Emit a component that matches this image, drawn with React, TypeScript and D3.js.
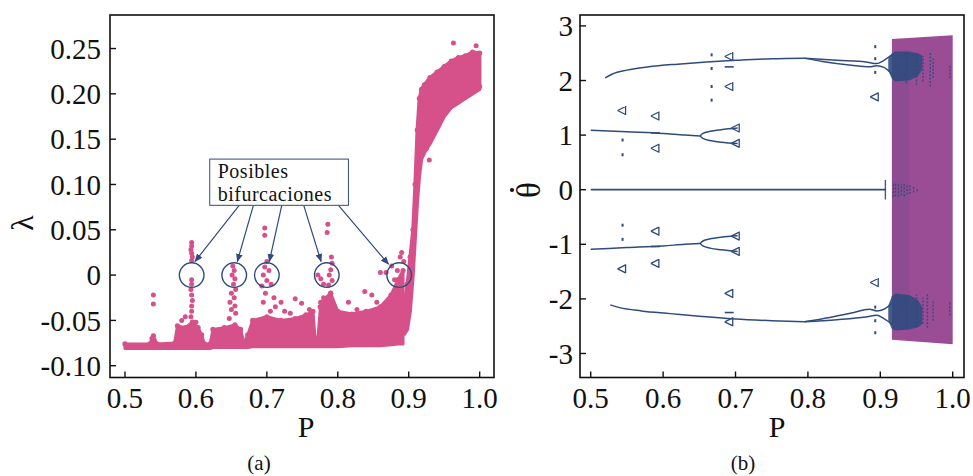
import * as d3 from 'd3'

// ---- panel (a): Lyapunov exponent vs P ----
// dense band of points, lower part (P 0.50 .. 0.89)
const bandP = [0.500, 0.535, 0.540, 0.545, 0.570, 0.574, 0.585, 0.595, 0.603, 0.608, 0.612, 0.620, 0.624, 0.640, 0.655, 0.663, 0.668, 0.673, 0.680, 0.700, 0.720, 0.740, 0.755, 0.765, 0.768, 0.772, 0.776, 0.790, 0.800, 0.820, 0.840, 0.860, 0.875, 0.885, 0.892]
const bandHi = [-0.076, -0.076, -0.067, -0.076, -0.075, -0.056, -0.058, -0.052, -0.058, -0.066, -0.076, -0.076, -0.060, -0.058, -0.055, -0.060, -0.076, -0.066, -0.050, -0.046, -0.050, -0.048, -0.044, -0.040, -0.070, -0.070, -0.030, -0.020, -0.040, -0.043, -0.040, -0.035, -0.022, -0.005, 0.005]
const bandLo = [-0.081, -0.081, -0.081, -0.081, -0.081, -0.081, -0.081, -0.081, -0.081, -0.081, -0.081, -0.081, -0.080, -0.080, -0.080, -0.080, -0.080, -0.080, -0.079, -0.079, -0.079, -0.079, -0.079, -0.079, -0.079, -0.079, -0.079, -0.079, -0.079, -0.078, -0.078, -0.078, -0.077, -0.076, -0.076]

// chaotic strand rising to the upper plateau (P 0.894 .. 1.0)
const strandP = [0.894, 0.898, 0.902, 0.906, 0.909, 0.912, 0.915, 0.918, 0.922, 0.930, 0.940, 0.950, 0.960, 0.970, 0.980, 0.990, 1.000]
const strandHi = [-0.030, -0.010, 0.020, 0.050, 0.100, 0.160, 0.195, 0.205, 0.210, 0.218, 0.224, 0.230, 0.236, 0.240, 0.242, 0.246, 0.245]
const strandLo = [-0.065, -0.060, -0.040, 0.000, 0.040, 0.080, 0.110, 0.128, 0.135, 0.145, 0.160, 0.175, 0.185, 0.190, 0.195, 0.200, 0.205]

// loose points (spikes and outliers)
const looseDots: [number, number][] = [
  [0.540, -0.022], [0.540, -0.032], [0.538, -0.070],
  [0.594, 0.036], [0.594, 0.032], [0.593, 0.028], [0.594, 0.024], [0.595, 0.020], [0.594, 0.016],
  [0.594, -0.005], [0.594, -0.010], [0.593, -0.016], [0.594, -0.022], [0.595, -0.028], [0.594, -0.034],
  [0.594, -0.040], [0.593, -0.046], [0.596, -0.052], [0.600, -0.052], [0.580, -0.050], [0.585, -0.046],
  [0.652, 0.010], [0.654, 0.005], [0.651, 0.000], [0.655, -0.004], [0.653, -0.010], [0.656, -0.016],
  [0.650, -0.020], [0.654, -0.025], [0.648, -0.030], [0.655, -0.034], [0.650, -0.038], [0.656, -0.042], [0.647, -0.048],
  [0.697, 0.052], [0.697, 0.044], [0.700, 0.015], [0.697, 0.009], [0.703, 0.005], [0.695, 0.000],
  [0.700, -0.006], [0.693, -0.012], [0.706, -0.010], [0.698, -0.020], [0.710, -0.025], [0.695, -0.030],
  [0.712, -0.035], [0.720, -0.030], [0.725, -0.040], [0.705, -0.040], [0.733, -0.042], [0.740, -0.026],
  [0.749, -0.031], [0.760, -0.038],
  [0.786, 0.056], [0.785, 0.047], [0.791, 0.020], [0.792, 0.013], [0.790, 0.006], [0.788, 0.000],
  [0.792, -0.006], [0.787, -0.011], [0.790, -0.020], [0.780, -0.010], [0.776, -0.004], [0.772, 0.000],
  [0.780, -0.025], [0.775, -0.035], [0.777, -0.045], [0.783, -0.030],
  [0.815, -0.030], [0.827, -0.038], [0.838, -0.018], [0.848, -0.022], [0.855, -0.030],
  [0.860, 0.003], [0.868, 0.003], [0.876, 0.010], [0.884, 0.005], [0.888, 0.020], [0.890, 0.025],
  [0.893, 0.015], [0.880, -0.005], [0.886, -0.010], [0.883, -0.015], [0.878, -0.020],
  [0.963, 0.256], [0.995, 0.253], [0.929, 0.127], [0.918, 0.150], [0.925, 0.140], [1.000, 0.208],
]

const lambdaTicks = [-0.10, -0.05, 0, 0.05, 0.10, 0.15, 0.20, 0.25]
const lambdaTickLabels = ['-0.10', '-0.05', '0', '0.05', '0.10', '0.15', '0.20', '0.25']
const pTicks = [0.5, 0.6, 0.7, 0.8, 0.9, 1.0]
const pTickLabels = ['0.5', '0.6', '0.7', '0.8', '0.9', '1.0']

// annotation: "Posibles bifurcaciones"
const circleP = [0.594, 0.654, 0.700, 0.7845, 0.8865]
const arrowFrom: [number, number][] = [[0.661, 0.077], [0.681, 0.077], [0.721, 0.077], [0.752, 0.077], [0.801, 0.077]]
const arrowTo: [number, number][] = [[0.5987, 0.015], [0.6584, 0.015], [0.7035, 0.015], [0.7764, 0.015], [0.8714, 0.012]]
const noteBox = { p0: 0.6195, p1: 0.815, l0: 0.077, l1: 0.128 }

// ---- panel (b): bifurcation diagram ----
const upperMain: [number, number][] = [[0.52, 2.05], [0.53, 2.12], [0.55, 2.19], [0.58, 2.25], [0.62, 2.30], [0.66, 2.34], [0.70, 2.37], [0.75, 2.40], [0.795, 2.41]]
const upperA: [number, number][] = [[0.795, 2.41], [0.84, 2.37], [0.88, 2.34], [0.895, 2.31], [0.905, 2.37], [0.916, 2.47]]
const upperB: [number, number][] = [[0.795, 2.41], [0.82, 2.35], [0.86, 2.28], [0.885, 2.25], [0.895, 2.27], [0.905, 2.24], [0.916, 2.12]]
const lowerMain: [number, number][] = [[0.527, -2.11], [0.54, -2.16], [0.57, -2.22], [0.61, -2.27], [0.65, -2.32], [0.70, -2.37], [0.75, -2.40], [0.795, -2.42]]
const lowerA: [number, number][] = [[0.795, -2.42], [0.84, -2.38], [0.88, -2.33], [0.895, -2.30], [0.905, -2.36], [0.916, -2.46]]
const lowerB: [number, number][] = [[0.795, -2.42], [0.83, -2.34], [0.86, -2.26], [0.885, -2.19], [0.895, -2.22], [0.905, -2.19], [0.916, -2.08]]
const plusMain: [number, number][] = [[0.50, 1.09], [0.55, 1.06], [0.60, 1.03], [0.63, 1.00], [0.651, 0.985]]
const plusUp: [number, number][] = [[0.651, 0.985], [0.655, 1.03], [0.665, 1.07], [0.680, 1.10], [0.703, 1.13]]
const plusDown: [number, number][] = [[0.651, 0.985], [0.655, 0.94], [0.665, 0.90], [0.680, 0.87], [0.703, 0.845]]
const minusMain: [number, number][] = [[0.50, -1.09], [0.55, -1.06], [0.60, -1.03], [0.63, -1.00], [0.651, -0.985]]
const minusUp: [number, number][] = [[0.651, -0.985], [0.655, -0.94], [0.665, -0.90], [0.680, -0.87], [0.703, -0.845]]
const minusDown: [number, number][] = [[0.651, -0.985], [0.655, -1.03], [0.665, -1.07], [0.680, -1.10], [0.703, -1.13]]
const zeroLine: [number, number][] = [[0.50, 0], [0.908, 0]]

const forkMarks: [number, number][] = [
  [0.544, 1.45], [0.544, -1.45], [0.590, 1.35], [0.590, 0.76], [0.590, -0.76], [0.590, -1.35],
  [0.692, 2.44], [0.692, 1.89], [0.692, -1.90], [0.692, -2.42],
  [0.701, 1.13], [0.701, 0.85], [0.701, -0.85], [0.701, -1.13], [0.893, 1.70], [0.893, -1.70],
]
const dashMarks: [number, number][] = [[0.692, 2.25], [0.692, -2.25], [0.590, 1.04], [0.590, -1.04]]
const dotMarks: [number, number][] = [
  [0.544, 0.91], [0.544, 0.64], [0.544, -0.65], [0.544, -0.91],
  [0.667, 2.47], [0.667, 2.22], [0.667, 1.89], [0.667, 1.64],
  [0.893, 2.62], [0.893, -2.62], [0.893, 2.15], [0.893, -2.15], [0.893, 2.40], [0.893, -2.40],
]

// chaotic region (purple) and dense navy parts inside it
const chaosP = [0.916, 1.0]
const chaosTop = [2.76, 2.83]
const chaosBottom = [-2.75, -2.83]
const denseP = [0.911, 0.916, 0.921, 0.940, 0.952, 0.958]
const denseUpTop = [2.40, 2.50, 2.53, 2.53, 2.50, 2.46]
const denseUpBot = [2.18, 2.03, 1.98, 2.00, 2.08, 2.20]
const denseLoTop = [-2.12, -1.95, -1.90, -1.93, -2.02, -2.15]
const denseLoBot = [-2.40, -2.55, -2.58, -2.56, -2.52, -2.46]
const hazeP = [0.916, 0.922, 0.930, 0.940]
const hazeHalf = [2.5, 2.4, 2.2, 2.0]
// navy speckle columns inside the chaotic region: [P, θ from, θ to]
const streaks: [number, number, number][] = [
  [0.936, 1.95, 2.53], [0.950, 1.92, 2.50], [0.959, 1.98, 2.45], [0.969, 1.89, 2.53], [0.973, 2.05, 2.40], [0.996, 2.04, 2.28],
  [0.936, -2.53, -1.95], [0.950, -2.52, -1.92], [0.959, -2.45, -1.98], [0.965, -2.53, -1.90], [0.973, -2.40, -2.05], [0.996, -2.30, -2.04],
  [0.907, -0.18, 0.18],
  [0.918, -0.13, 0.13], [0.921, -0.12, 0.12], [0.925, -0.13, 0.13], [0.929, -0.10, 0.10], [0.933, -0.12, 0.12],
  [0.937, -0.09, 0.09], [0.941, -0.08, 0.08], [0.946, -0.05, 0.05], [0.951, -0.03, 0.03],
]
const thetaTicks = [-3, -2, -1, 0, 1, 2, 3]

const W = 973
const H = 476
const PINK = '#d6508a'
const NAVY = '#2f4b7e'
const PURPLE = '#9a4c95'
const FONT = "'Liberation Serif', 'Times New Roman', serif"

const L = { x0: 110, x1: 494, y0: 15, y1: 377.5 }
const R = { x0: 580, x1: 964, y0: 15, y1: 377.5 }

const xL = d3.scaleLinear().domain([0.4789, 1.0202]).range([L.x0, L.x1])
const yL = d3.scaleLinear().domain([-0.113, 0.287]).range([L.y1, L.y0])
const xR = d3.scaleLinear().domain([0.4852, 1.0156]).range([R.x0, R.x1])
const yR = d3.scaleLinear().domain([-3.44, 3.2]).range([R.y1, R.y0])

function bandArea(xs: number[], lo: number[], hi: number[], x: any, y: any) {
  const rows = xs.map((p, i) => ({ p, lo: lo[i], hi: hi[i] }))
  return d3.area<any>().x(d => x(d.p)).y0(d => y(d.lo)).y1(d => y(d.hi))(rows) || ''
}

function Frame({ b }: { b: typeof L }) {
  return <rect x={b.x0} y={b.y0} width={b.x1 - b.x0} height={b.y1 - b.y0} fill="none" stroke="#111" strokeWidth={1.6} />
}

function PanelA() {
  const line = d3.line<[number, number]>().x(d => xL(d[0])).y(d => yL(d[1]))
  return (
    <g>
      <path d={bandArea(bandP, bandLo, bandHi, xL, yL)} fill={PINK} stroke={PINK} strokeWidth={3} strokeLinejoin="round" />
      {bandP.map((p, i) => (
        <circle key={'e' + i} cx={xL(p)} cy={yL(bandHi[i])} r={2.6} fill={PINK} />
      ))}
      <path d={bandArea(strandP, strandLo, strandHi, xL, yL)} fill={PINK} stroke={PINK} strokeWidth={3.5} strokeLinejoin="round" />
      {strandP.map((p, i) => (
        <circle key={'s' + i} cx={xL(p)} cy={yL(strandHi[i])} r={2.6} fill={PINK} />
      ))}
      {looseDots.map((d, i) => (
        <circle key={i} cx={xL(d[0])} cy={yL(d[1])} r={2.5} fill={PINK} />
      ))}
      {circleP.map((p, i) => (
        <circle key={'c' + i} cx={xL(p)} cy={yL(0)} r={12.3} fill="none" stroke={NAVY} strokeWidth={1.4} />
      ))}
      {arrowFrom.map((a, i) => (
        <path key={'a' + i} d={line([a, arrowTo[i]]) || ''} stroke={NAVY} strokeWidth={1.2} fill="none" markerEnd="url(#arrowHead)" />
      ))}
      <rect x={xL(noteBox.p0)} y={yL(noteBox.l1)} width={xL(noteBox.p1) - xL(noteBox.p0)} height={yL(noteBox.l0) - yL(noteBox.l1)}
        fill="#fff" stroke={NAVY} strokeWidth={1} />
      <text x={xL(noteBox.p0) + 8} y={yL(noteBox.l1) + 19} fontFamily={FONT} fontSize={20} letterSpacing={0.5} fill="#111">Posibles</text>
      <text x={xL(noteBox.p0) + 8} y={yL(noteBox.l1) + 41.5} fontFamily={FONT} fontSize={20} letterSpacing={0.5} fill="#111">bifurcaciones</text>

      <Frame b={L} />
      {lambdaTicks.map((t, i) => (
        <g key={'yt' + i}>
          <line x1={L.x0} x2={L.x0 + 6} y1={yL(t)} y2={yL(t)} stroke="#111" strokeWidth={1.4} />
          <text x={L.x0 - 9} y={yL(t)} dy="0.35em" textAnchor="end" fontFamily={FONT} fontSize={29} fill="#111">{lambdaTickLabels[i]}</text>
        </g>
      ))}
      {pTicks.map((t, i) => (
        <g key={'xt' + i}>
          <line x1={xL(t)} x2={xL(t)} y1={L.y1} y2={L.y1 - 6} stroke="#111" strokeWidth={1.4} />
          <text x={xL(t)} y={408} textAnchor="middle" fontFamily={FONT} fontSize={29} fill="#111">{pTickLabels[i]}</text>
        </g>
      ))}
      <text x={306} y={437} textAnchor="middle" fontFamily={FONT} fontSize={30} fill="#111">P</text>
      <text transform="translate(33,223) rotate(-90)" textAnchor="middle" fontFamily={FONT} fontSize={32} fill="#111">λ</text>
      <text x={259} y={470} textAnchor="middle" fontFamily={FONT} fontSize={21} fill="#111">(a)</text>
    </g>
  )
}

function Fork({ p, t }: { p: number; t: number }) {
  const x = xR(p)
  const y = yR(t)
  return <path d={`M${x - 5},${y} L${x + 3},${y - 4} M${x - 5},${y} L${x + 3},${y + 4} M${x + 3},${y - 4.5} L${x + 3},${y + 4.5}`} stroke={NAVY} strokeWidth={1.3} fill="none" />
}

function PanelB() {
  const line = d3.line<[number, number]>().x(d => xR(d[0])).y(d => yR(d[1])).curve(d3.curveMonotoneX)
  const branches = [upperMain, upperA, upperB, lowerMain, lowerA, lowerB, plusMain, plusUp, plusDown, minusMain, minusUp, minusDown]
  return (
    <g>
      <path d={bandArea(chaosP, chaosBottom, chaosTop, xR, yR)} fill={PURPLE} />
      <path d={bandArea(hazeP, hazeHalf.map(v => -v), hazeHalf, xR, yR)} fill={NAVY} opacity={0.12} />
      <path d={bandArea(denseP, denseUpBot, denseUpTop, xR, yR)} fill={NAVY} opacity={0.9} />
      <path d={bandArea(denseP, denseLoBot, denseLoTop, xR, yR)} fill={NAVY} opacity={0.9} />
      {streaks.map((s, i) => (
        <line key={'s' + i} x1={xR(s[0])} x2={xR(s[0])} y1={yR(s[1])} y2={yR(s[2])} stroke={NAVY} strokeWidth={1.4}
          strokeDasharray={i === 12 ? undefined : '2 1.5'} opacity={0.9} />
      ))}
      {branches.map((b, i) => (
        <path key={'b' + i} d={line(b) || ''} fill="none" stroke={NAVY} strokeWidth={1.5} />
      ))}
      <path d={d3.line<[number, number]>().x(d => xR(d[0])).y(d => yR(d[1]))(zeroLine) || ''} stroke={NAVY} strokeWidth={1.8} />
      {forkMarks.map((m, i) => <Fork key={'f' + i} p={m[0]} t={m[1]} />)}
      {dashMarks.map((m, i) => (
        <line key={'d' + i} x1={xR(m[0]) - 5} x2={xR(m[0]) + 4} y1={yR(m[1])} y2={yR(m[1])} stroke={NAVY} strokeWidth={1.6} />
      ))}
      {dotMarks.map((m, i) => (
        <rect key={'m' + i} x={xR(m[0]) - 1} y={yR(m[1]) - 1.5} width={2} height={3} fill={NAVY} />
      ))}

      <Frame b={R} />
      {thetaTicks.map(t => (
        <g key={'yt' + t}>
          <line x1={R.x0} x2={R.x0 + 6} y1={yR(t)} y2={yR(t)} stroke="#111" strokeWidth={1.4} />
          <text x={R.x0 - 7} y={yR(t)} dy="0.35em" textAnchor="end" fontFamily={FONT} fontSize={29} fill="#111">{t}</text>
        </g>
      ))}
      {pTicks.map((t, i) => (
        <g key={'xt' + i}>
          <line x1={xR(t)} x2={xR(t)} y1={R.y1} y2={R.y1 - 6} stroke="#111" strokeWidth={1.4} />
          <text x={xR(t)} y={408} textAnchor="middle" fontFamily={FONT} fontSize={29} fill="#111">{pTickLabels[i]}</text>
        </g>
      ))}
      <text x={777} y={437} textAnchor="middle" fontFamily={FONT} fontSize={30} fill="#111">P</text>
      <text transform="translate(540,190) rotate(-90)" textAnchor="middle" fontFamily={FONT} fontSize={33} fill="#111">θ</text>
      <circle cx={512} cy={190} r={2.1} fill="#111" />
      <text x={743} y={470} textAnchor="middle" fontFamily={FONT} fontSize={21} fill="#111">(b)</text>
    </g>
  )
}

export default function App() {
  return (
    <svg width={W} height={H} style={{ position: 'absolute', left: 0, top: 0, background: '#fff' }}>
      <defs>
        <marker id="arrowHead" viewBox="0 0 10 10" refX={9} refY={5} markerWidth={7} markerHeight={7} orient="auto">
          <path d="M0,1 L10,5 L0,9 Z" fill={NAVY} />
        </marker>
      </defs>
      <PanelA />
      <PanelB />
    </svg>
  )
}
